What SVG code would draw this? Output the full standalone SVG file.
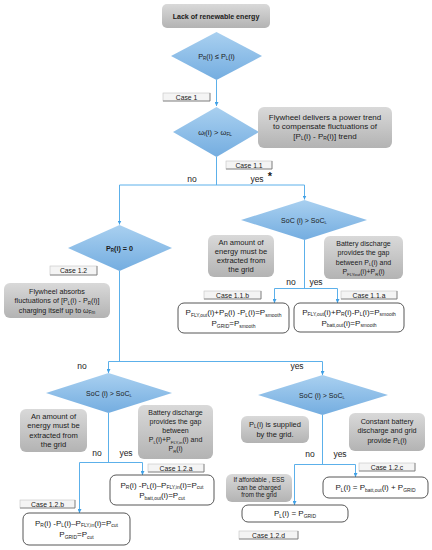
<svg xmlns="http://www.w3.org/2000/svg" width="432" height="550" viewBox="0 0 432 550">
<defs>
<linearGradient id="gb" x1="0" y1="0" x2="0" y2="1"><stop offset="0" stop-color="#a9d0f0"/><stop offset="1" stop-color="#74ade0"/></linearGradient>
<linearGradient id="gg" x1="0" y1="0" x2="0" y2="1"><stop offset="0" stop-color="#d9d9d9"/><stop offset="1" stop-color="#b3b3b3"/></linearGradient>
<marker id="ar" markerWidth="4" markerHeight="4" refX="4" refY="2" orient="auto" markerUnits="userSpaceOnUse"><path d="M0,0 L4,2 L0,4 z" fill="#3fa0e6"/></marker>
<style>
text{font-family:"Liberation Sans",Arial,sans-serif;fill:#1a1a1a;text-anchor:middle}
.conn{stroke:#5cb0ea;stroke-width:1;fill:none}
.arr{marker-end:url(#ar)}
.dia{fill:url(#gb)}
.gbox{fill:url(#gg)}
.res{fill:#fff;stroke:#444;stroke-width:0.9}
.cbox{fill:#f4f4f4;stroke:#c4c4c4;stroke-width:0.6}
.csh{fill:none;stroke:#777;stroke-width:0.8}
.eq{font-size:8px}
.dt{font-size:7px}
.ct{font-size:6.8px}
.amt{font-size:7.6px}
.bat{font-size:7px}
.lbl{font-size:8.5px}
.s{font-size:0.62em}
</style>
</defs>

<g id="connectors">
<path class="conn arr" d="M216.5,80 V106"/>
<path class="conn" d="M216.5,157 V185 M119.5,185 H304.5"/>
<path class="conn arr" d="M304.5,185 V199.5"/>
<path class="conn arr" d="M119.5,185 V224.5"/>
<path class="conn" d="M304.5,240 V288.5 M274.5,288.5 H337.5"/>
<path class="conn arr" d="M274.5,288.5 V303"/>
<path class="conn arr" d="M337.5,288.5 V303"/>
<path class="conn" d="M119.5,271 V361.5 M108.5,361.5 H322.5"/>
<path class="conn arr" d="M108.5,361.5 V373"/>
<path class="conn arr" d="M322.5,361.5 V375"/>
<path class="conn" d="M108.5,413 V462.5 M79.5,462.5 H142.5"/>
<path class="conn arr" d="M142.5,462.5 V475"/>
<path class="conn arr" d="M79.5,462.5 V513"/>
<path class="conn" d="M322.5,415 V464.5 M294.5,464.5 H355.5"/>
<path class="conn arr" d="M355.5,464.5 V477"/>
<path class="conn arr" d="M294.5,464.5 V505"/>
<text class="lbl" x="192" y="182">no</text>
<text class="lbl" x="257" y="182">yes</text>
<text x="270" y="180" style="font-size:11px;font-weight:bold">*</text>
<text class="lbl" x="291" y="285">no</text>
<text class="lbl" x="316" y="285">yes</text>
<text class="lbl" x="82" y="369">no</text>
<text class="lbl" x="297" y="369">yes</text>
<text class="lbl" x="97" y="456">no</text>
<text class="lbl" x="126" y="456">yes</text>
<text class="lbl" x="310" y="457">no</text>
<text class="lbl" x="340" y="457">yes</text>
</g>

<g id="start">
<rect class="gbox" x="162" y="4" width="108" height="24" rx="5"/>
<text x="216" y="18.8" style="font-size:7.1px;font-weight:bold">Lack of renewable energy</text>
</g>

<g id="d1">
<polygon class="dia" points="171,56 216.5,32 262,56 216.5,80"/>
<text x="216.5" y="58.5" style="font-size:7.3px">P<tspan class="s" dy="1.5">R</tspan><tspan dy="-1.5">(i) ≤ P</tspan><tspan class="s" dy="1.5">L</tspan><tspan dy="-1.5">(i)</tspan></text>
</g>

<g id="case1">
<rect class="cbox" x="163" y="93" width="47" height="8"/>
<path class="csh" d="M210,93 V101 H163"/>
<text class="ct" x="186.5" y="99.5">Case 1</text>
</g>

<g id="d2">
<polygon class="dia" points="173,132 216.5,107 259,132 216.5,157"/>
<text x="215" y="134.5" style="font-size:7.5px">ω<tspan class="s" dy="1.5">f</tspan><tspan dy="-1.5">(i) &gt; ω</tspan><tspan class="s" dy="1.5">FL</tspan></text>
</g>

<g id="note-flywheel-delivers">
<rect class="gbox" x="258" y="107" width="134" height="41" rx="6"/>
<text class="eq" x="325" y="119.5">Flywheel delivers a power trend</text>
<text class="eq" x="325" y="129">to compensate  fluctuations of</text>
<text class="eq" x="325" y="138.5">[P<tspan class="s" dy="1.5">L</tspan><tspan dy="-1.5">(i) - P</tspan><tspan class="s" dy="1.5">R</tspan><tspan dy="-1.5">(i)] trend</tspan></text>
</g>

<g id="case1-1">
<rect class="cbox" x="226" y="161" width="46" height="8"/>
<path class="csh" d="M272,161 V169 H226"/>
<text class="ct" x="249" y="167.5">Case 1.1</text>
</g>

<g id="d3">
<polygon class="dia" points="241,220 304.5,200 367,220 304.5,240"/>
<text class="dt" x="304" y="222.5">SoC (i) &gt; SoC<tspan class="s" dy="1.5">L</tspan></text>
</g>

<g id="note-grid-1">
<rect class="gbox" x="208" y="235" width="66" height="42" rx="6"/>
<text class="amt" x="241" y="244.5">An amount of</text>
<text class="amt" x="241" y="253.8">energy must be</text>
<text class="amt" x="241" y="263.1">extracted from</text>
<text class="amt" x="241" y="272.4">the grid</text>
</g>

<g id="note-battery-1">
<rect class="gbox" x="324" y="236" width="79" height="43" rx="6"/>
<text class="bat" x="363.5" y="246">Battery discharge</text>
<text class="bat" x="363.5" y="255.3">provides the gap</text>
<text class="bat" x="363.5" y="264.6">between P<tspan class="s" dy="1.5">L</tspan><tspan dy="-1.5">(i)  and</tspan></text>
<text class="bat" x="363.5" y="274">P<tspan class="s" dy="1.5">FLYout</tspan><tspan dy="-1.5">(i)+P</tspan><tspan class="s" dy="1.5">R</tspan><tspan dy="-1.5">(i)</tspan></text>
</g>

<g id="case1-1-b">
<rect class="cbox" x="204" y="291" width="57" height="8"/>
<path class="csh" d="M261,291 V299 H204"/>
<text class="ct" x="232.5" y="297.5">Case 1.1.b</text>
</g>
<g id="case1-1-a">
<rect class="cbox" x="341" y="291" width="56" height="8"/>
<path class="csh" d="M397,291 V299 H341"/>
<text class="ct" x="369" y="297.5">Case 1.1.a</text>
</g>

<g id="res1-1-b">
<rect class="res" x="178" y="303" width="111" height="30" rx="6"/>
<text class="eq" x="233.5" y="315">P<tspan class="s" dy="1.5">FLY,out</tspan><tspan dy="-1.5">(i)+P</tspan><tspan class="s" dy="1.5">R</tspan><tspan dy="-1.5">(i) -P</tspan><tspan class="s" dy="1.5">L</tspan><tspan dy="-1.5">(i)=P</tspan><tspan class="s" dy="1.5">smooth</tspan></text>
<text class="eq" x="233.5" y="326">P<tspan class="s" dy="1.5">GRID</tspan><tspan dy="-1.5">=P</tspan><tspan class="s" dy="1.5">smooth</tspan></text>
</g>
<g id="res1-1-a">
<rect class="res" x="294" y="303" width="110" height="29" rx="6"/>
<text class="eq" x="349" y="314.5">P<tspan class="s" dy="1.5">FLY,out</tspan><tspan dy="-1.5">(i)+P</tspan><tspan class="s" dy="1.5">R</tspan><tspan dy="-1.5">(i)-P</tspan><tspan class="s" dy="1.5">L</tspan><tspan dy="-1.5">(i)=P</tspan><tspan class="s" dy="1.5">smooth</tspan></text>
<text class="eq" x="349" y="325.5">P<tspan class="s" dy="1.5">batt,out</tspan><tspan dy="-1.5">(i)=P</tspan><tspan class="s" dy="1.5">smooth</tspan></text>
</g>

<g id="d4">
<polygon class="dia" points="68,248 119.5,225 172,248 119.5,271"/>
<text x="119.5" y="250.5" style="font-size:7.2px;font-weight:bold">P<tspan class="s" dy="1.5">R</tspan><tspan dy="-1.5">(i) = 0</tspan></text>
</g>

<g id="case1-2">
<rect class="cbox" x="50" y="266" width="47" height="9"/>
<path class="csh" d="M97,266 V275 H50"/>
<text class="ct" x="73.5" y="273">Case 1.2</text>
</g>

<g id="note-flywheel-absorbs">
<rect class="gbox" x="4" y="283" width="106" height="35" rx="6"/>
<text x="57" y="293.5" style="font-size:7.2px">Flywheel absorbs</text>
<text x="57" y="303" style="font-size:7.2px">fluctuations of [P<tspan class="s" dy="1.5">L</tspan><tspan dy="-1.5">(i) - P</tspan><tspan class="s" dy="1.5">R</tspan><tspan dy="-1.5">(i)]</tspan></text>
<text x="57" y="312.5" style="font-size:7.2px">charging itself up to ω<tspan class="s" dy="1.5">Fm</tspan></text>
</g>

<g id="d5">
<polygon class="dia" points="46,393 108.5,373 172,393 108.5,413"/>
<text class="dt" x="109" y="395.5">SoC (i) &gt; SoC<tspan class="s" dy="1.5">L</tspan></text>
</g>

<g id="note-grid-2">
<rect class="gbox" x="20" y="409" width="67" height="43" rx="6"/>
<text class="amt" x="53.5" y="418.5">An amount of</text>
<text class="amt" x="53.5" y="428">energy must be</text>
<text class="amt" x="53.5" y="437.5">extracted from</text>
<text class="amt" x="53.5" y="447">the grid</text>
</g>

<g id="note-battery-2">
<rect class="gbox" x="138" y="405" width="75" height="54" rx="6"/>
<text class="bat" x="175.5" y="415">Battery discharge</text>
<text class="bat" x="175.5" y="424">provides the gap</text>
<text class="bat" x="175.5" y="433">between</text>
<text class="bat" x="175.5" y="442">P<tspan class="s" dy="1.5">L</tspan><tspan dy="-1.5">(i)+P</tspan><tspan class="s" dy="1.5">FLY,in</tspan><tspan dy="-1.5">(i) and</tspan></text>
<text class="bat" x="175.5" y="451">P<tspan class="s" dy="1.5">R</tspan><tspan dy="-1.5">(i)</tspan></text>
</g>

<g id="case1-2-a">
<rect class="cbox" x="148" y="464" width="56" height="8"/>
<path class="csh" d="M204,464 V472 H148"/>
<text class="ct" x="176" y="470.5">Case 1.2.a</text>
</g>

<g id="res1-2-a">
<rect class="res" x="110" y="475" width="104" height="30" rx="6"/>
<text class="eq" x="162" y="487.5">P<tspan class="s" dy="1.5">R</tspan><tspan dy="-1.5">(i) -P</tspan><tspan class="s" dy="1.5">L</tspan><tspan dy="-1.5">(i)–P</tspan><tspan class="s" dy="1.5">FLY,in</tspan><tspan dy="-1.5">(i)=P</tspan><tspan class="s" dy="1.5">cut</tspan></text>
<text class="eq" x="162" y="498">P<tspan class="s" dy="1.5">batt,out</tspan><tspan dy="-1.5">(i)=P</tspan><tspan class="s" dy="1.5">cut</tspan></text>
</g>

<g id="case1-2-b">
<rect class="cbox" x="20" y="500" width="55" height="8"/>
<path class="csh" d="M75,500 V508 H20"/>
<text class="ct" x="47.5" y="506.5">Case 1.2.b</text>
</g>

<g id="res1-2-b">
<rect class="res" x="23" y="513" width="107" height="32" rx="6"/>
<text class="eq" x="76.5" y="525.5">P<tspan class="s" dy="1.5">R</tspan><tspan dy="-1.5">(i) -P</tspan><tspan class="s" dy="1.5">L</tspan><tspan dy="-1.5">(i)–P</tspan><tspan class="s" dy="1.5">FLY,in</tspan><tspan dy="-1.5">(i)=P</tspan><tspan class="s" dy="1.5">cut</tspan></text>
<text class="eq" x="76.5" y="537">P<tspan class="s" dy="1.5">GRID</tspan><tspan dy="-1.5">=P</tspan><tspan class="s" dy="1.5">cut</tspan></text>
</g>

<g id="d6">
<polygon class="dia" points="258,395 322.5,375 388,395 322.5,415"/>
<text class="dt" x="322" y="397.5">SoC (i) &gt; SoC<tspan class="s" dy="1.5">L</tspan></text>
</g>

<g id="note-supplied">
<rect class="gbox" x="241" y="416" width="68" height="27" rx="6"/>
<text x="275" y="426.5" style="font-size:7.5px">P<tspan class="s" dy="1.5">L</tspan><tspan dy="-1.5">(i) is supplied</tspan></text>
<text x="275" y="436.5" style="font-size:7.5px">by the grid.</text>
</g>

<g id="note-constant">
<rect class="gbox" x="349" y="413" width="76" height="38" rx="6"/>
<text x="387" y="423.5" style="font-size:7.2px">Constant battery</text>
<text x="387" y="433" style="font-size:7.2px">discharge and grid</text>
<text x="387" y="442.5" style="font-size:7.2px">provide P<tspan class="s" dy="1.5">L</tspan><tspan dy="-1.5">(i)</tspan></text>
</g>

<g id="case1-2-c">
<rect class="cbox" x="359" y="463" width="56" height="8"/>
<path class="csh" d="M415,463 V471 H359"/>
<text class="ct" x="387" y="469.5">Case 1.2.c</text>
</g>

<g id="res1-2-c">
<rect class="res" x="323" y="477" width="105" height="21" rx="6"/>
<text class="eq" x="375.5" y="490">P<tspan class="s" dy="1.5">L</tspan><tspan dy="-1.5">(i) = P</tspan><tspan class="s" dy="1.5">batt,out</tspan><tspan dy="-1.5">(i) + P</tspan><tspan class="s" dy="1.5">GRID</tspan></text>
</g>

<g id="note-affordable">
<rect class="gbox" x="226" y="474" width="66" height="28" rx="6"/>
<text x="259" y="481.8" style="font-size:6.3px">If affordable , ESS</text>
<text x="259" y="489.5" style="font-size:6.3px">can be charged</text>
<text x="259" y="497.2" style="font-size:6.3px">from the grid</text>
</g>

<g id="res1-2-d">
<rect class="res" x="242" y="505" width="106" height="17" rx="6"/>
<text class="eq" x="295" y="516.3">P<tspan class="s" dy="1.5">L</tspan><tspan dy="-1.5">(i) = P</tspan><tspan class="s" dy="1.5">GRID</tspan></text>
</g>

<g id="case1-2-d">
<rect class="cbox" x="239" y="531" width="59" height="8"/>
<path class="csh" d="M298,531 V539 H239"/>
<text class="ct" x="268.5" y="537.5">Case 1.2.d</text>
</g>
</svg>
